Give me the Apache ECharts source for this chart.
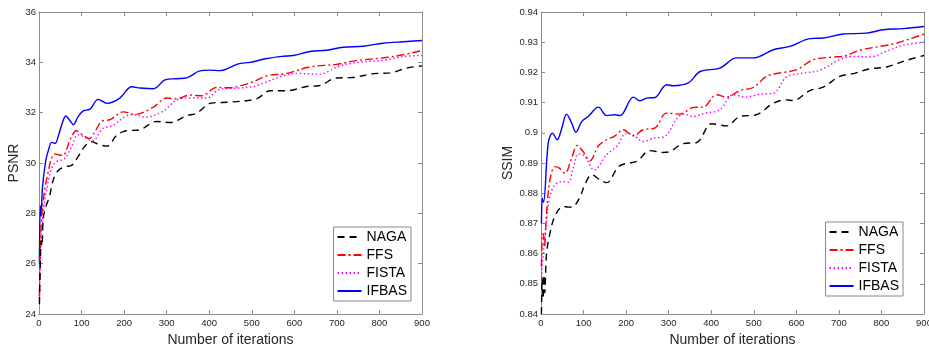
<!DOCTYPE html>
<html>
<head>
<meta charset="utf-8">
<script src="https://cdn.jsdelivr.net/npm/echarts@6/dist/echarts.min.js"></script>
<style>
  html, body { margin: 0; padding: 0; background: #fff; }
  #main { width: 929px; height: 344px; }
</style>
</head>
<body>
<div id="main"></div>
<script>
// [iteration, value] pairs
var seriesNames = ["NAGA", "FFS", "FISTA", "IFBAS"];
var xTicks = { min: 0, max: 900, step: 100 };

var psnrNaga = [[1,24.4],[3,26.0],[5,26.9],[7,26.7],[10,27.8],[15,28.2],[25,28.7],[33,29.3],[45,29.7],[60,29.85],[76,29.9],[92,30.25],[107,30.65],[123,30.85],[143,30.72],[160,30.67],[182,31.1],[198,31.25],[214,31.29],[237,31.32],[276,31.65],[308,31.61],[347,31.88],[370,31.98],[405,32.38],[449,32.42],[511,32.55],[543,32.87],[582,32.87],[629,33.04],[660,33.08],[699,33.38],[738,33.4],[786,33.55],[825,33.58],[864,33.77],[900,33.86]];
var psnrFfs = [[1,24.7],[3,26.5],[6,27.8],[10,28.5],[15,29.1],[21,29.6],[28,30.1],[37,30.36],[47,30.32],[57,30.3],[65,30.55],[75,31.0],[88,31.28],[100,31.15],[118,30.97],[130,31.2],[147,31.65],[167,31.72],[198,32.03],[226,31.93],[269,32.22],[300,32.58],[323,32.55],[355,32.7],[382,32.67],[417,33.0],[445,32.99],[496,33.18],[535,33.46],[582,33.56],[637,33.82],[699,33.92],[746,34.07],[809,34.18],[856,34.3],[900,34.47]];
var psnrFista = [[1,24.6],[3,26.0],[6,27.3],[10,28.0],[15,28.7],[22,29.3],[30,29.8],[40,30.05],[50,30.1],[62,30.2],[75,30.6],[92,31.12],[105,31.05],[125,30.88],[151,31.38],[175,31.5],[206,31.88],[226,31.92],[249,31.82],[292,32.06],[323,32.5],[355,32.58],[394,32.58],[425,32.93],[472,32.98],[503,33.04],[527,33.17],[574,33.47],[605,33.56],[660,33.53],[707,33.86],[762,34.02],[809,34.08],[856,34.23],[900,34.27]];
var psnrIfbas = [[1,26.0],[3,28.3],[5,27.9],[8,29.0],[15,30.0],[22,30.5],[30,30.82],[38,30.78],[45,31.05],[55,31.6],[63,31.87],[72,31.7],[81,31.52],[92,31.85],[104,32.07],[120,32.14],[139,32.53],[160,32.37],[190,32.58],[218,33.03],[237,32.98],[269,32.95],[296,33.3],[323,33.35],[347,33.38],[378,33.66],[402,33.69],[425,33.67],[468,33.94],[496,34.0],[535,34.15],[574,34.24],[597,34.27],[637,34.43],[676,34.48],[715,34.6],[762,34.64],[809,34.76],[856,34.82],[900,34.87]];

var ssimNaga = [[1,0.840],[3,0.852],[5,0.845],[7,0.853],[9,0.847],[13,0.860],[21,0.8667],[29,0.8711],[41,0.8745],[52,0.8756],[64,0.8754],[76,0.8756],[92,0.8789],[103,0.8828],[119,0.8861],[139,0.8844],[154,0.8835],[182,0.8888],[201,0.8899],[225,0.8905],[256,0.8941],[287,0.8935],[303,0.8938],[334,0.8964],[366,0.8968],[401,0.903],[436,0.9023],[467,0.9054],[507,0.906],[546,0.9098],[577,0.9109],[593,0.9107],[632,0.914],[663,0.9151],[702,0.9187],[734,0.9196],[773,0.9212],[812,0.9218],[859,0.924],[900,0.9256]];
var ssimFfs = [[1,0.8557],[3,0.866],[5,0.8667],[8,0.8622],[13,0.8733],[21,0.8844],[33,0.8888],[43,0.8883],[56,0.8866],[72,0.8916],[85,0.8958],[99,0.8938],[115,0.8907],[135,0.8957],[154,0.8977],[174,0.899],[193,0.901],[217,0.899],[240,0.901],[268,0.9016],[295,0.9065],[327,0.9062],[358,0.9084],[381,0.9085],[413,0.9126],[436,0.9118],[467,0.914],[499,0.915],[530,0.9187],[561,0.9198],[601,0.9209],[640,0.9242],[687,0.9251],[710,0.9253],[749,0.9273],[796,0.9286],[828,0.9294],[867,0.9311],[900,0.9327]];
var ssimFista = [[1,0.852],[5,0.860],[13,0.8711],[21,0.8789],[33,0.8828],[52,0.8839],[64,0.8836],[76,0.8883],[88,0.893],[103,0.8922],[125,0.8877],[154,0.8927],[178,0.8955],[201,0.8999],[217,0.8993],[240,0.8971],[264,0.8982],[291,0.8988],[319,0.9046],[334,0.9062],[358,0.9054],[385,0.9065],[420,0.9076],[452,0.9126],[483,0.9118],[514,0.9128],[546,0.9131],[577,0.9185],[608,0.9196],[655,0.9207],[702,0.9242],[734,0.9253],[773,0.9251],[812,0.927],[851,0.929],[900,0.930]];
var ssimIfbas = [[1,0.870],[3,0.8783],[6,0.877],[17,0.8966],[27,0.8999],[38,0.8977],[49,0.9016],[60,0.9062],[72,0.9032],[82,0.9002],[96,0.9038],[111,0.9054],[135,0.9085],[154,0.9057],[174,0.906],[186,0.9057],[217,0.9118],[233,0.9106],[248,0.9115],[268,0.9117],[295,0.9159],[311,0.9156],[346,0.9165],[374,0.9203],[420,0.9214],[460,0.9248],[499,0.9248],[546,0.9275],[585,0.9286],[632,0.9312],[663,0.9314],[710,0.9327],[765,0.933],[804,0.9341],[851,0.9345],[900,0.9352]];

var psnrData = [psnrNaga, psnrFfs, psnrFista, psnrIfbas];
var ssimData = [ssimNaga, ssimFfs, ssimFista, ssimIfbas];

var lineColors = ["#000000", "#ff0000", "#ff00ff", "#0000ff"];
var lineTypes = [[7, 5], [8, 3, 2, 3], [1.5, 2.5], "solid"];

var font = "Liberation Sans";
var boxColor = "#8c8c8c";
var textColor = "#262626";

var chart = echarts.init(document.getElementById("main"));

function xAx(grid, pos, withLabels) {
  return {
    type: "value", gridIndex: grid, position: pos,
    min: xTicks.min, max: xTicks.max, interval: xTicks.step,
    name: withLabels ? "Number of iterations" : "",
    nameLocation: "middle", nameGap: 17,
    nameTextStyle: { fontFamily: font, fontSize: 14, color: textColor },
    axisLine: { show: true, onZero: false, lineStyle: { color: boxColor } },
    axisTick: { show: true, inside: true, length: 4, lineStyle: { color: boxColor } },
    axisLabel: { show: withLabels, fontFamily: font, fontSize: 9.5, color: textColor, margin: 4 },
    splitLine: { show: false }
  };
}
function yAx(grid, pos, min, max, step, name, gap, withLabels) {
  return {
    type: "value", gridIndex: grid, position: pos,
    min: min, max: max, interval: step,
    name: withLabels ? name : "",
    nameLocation: "middle", nameGap: gap,
    nameTextStyle: { fontFamily: font, fontSize: 14, color: textColor },
    axisLine: { show: true, onZero: false, lineStyle: { color: boxColor } },
    axisTick: { show: true, inside: true, length: 4, lineStyle: { color: boxColor } },
    axisLabel: { show: withLabels, fontFamily: font, fontSize: 9.5, color: textColor, margin: 3 },
    splitLine: { show: false }
  };
}

var series = [];
function addLines(data, xIdx, yIdx) {
  seriesNames.forEach(function (n, i) {
    series.push({
      name: n, type: "line", xAxisIndex: xIdx, yAxisIndex: yIdx,
      data: data[i], showSymbol: false, symbol: "none", smooth: 0.35,
      lineStyle: { color: lineColors[i], width: 1.4, type: lineTypes[i] },
      itemStyle: { color: lineColors[i] },
      z: 10 - i
    });
  });
}
addLines(psnrData, 0, 0);
addLines(ssimData, 2, 2);

function legend(right, top) {
  return {
    data: seriesNames, orient: "vertical", right: right, top: top,
    itemWidth: 24, itemHeight: 10, itemGap: 4,
    padding: [3, 4, 3, 3],
    borderColor: "#888", borderWidth: 1, backgroundColor: "#fff",
    itemStyle: { opacity: 0 },
    textStyle: { fontFamily: font, fontSize: 14, color: "#000" },
    selectedMode: false
  };
}

chart.setOption({
  animation: false,
  grid: [
    { left: 39, top: 12, width: 383, height: 302, outerBoundsMode: "none" },
    { left: 541, top: 12, width: 383, height: 302, outerBoundsMode: "none" }
  ],
  xAxis: [xAx(0, "bottom", true), xAx(0, "top", false), xAx(1, "bottom", true), xAx(1, "top", false)],
  yAxis: [
    yAx(0, "left", 24, 36, 2, "PSNR", 17, true), yAx(0, "right", 24, 36, 2, "", 0, false),
    yAx(1, "left", 0.84, 0.94, 0.01, "SSIM", 23, true), yAx(1, "right", 0.84, 0.94, 0.01, "", 0, false)
  ],
  legend: [legend(929 - 411, 227), legend(929 - 903, 222)],
  series: series
});

window.onresize = function () { chart.resize(); };
</script>
</body>
</html>
